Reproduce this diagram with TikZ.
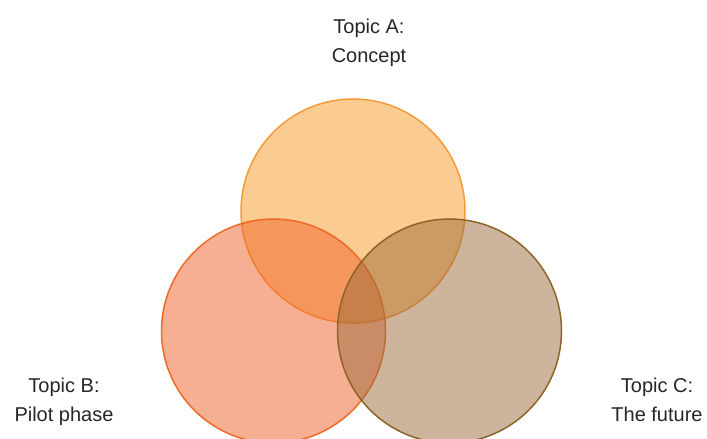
\documentclass[tikz,border=0pt]{standalone}
\usepackage{fontspec}
\setmainfont{Liberation Sans}
\definecolor{fillA}{HTML}{F79A26}
\definecolor{lineA}{HTML}{F59A3A}
\definecolor{fillB}{HTML}{F06028}
\definecolor{lineB}{HTML}{EE6A28}
\definecolor{fillC}{HTML}{9C6A3A}
\definecolor{lineC}{HTML}{8E6428}
\begin{document}
\begin{tikzpicture}[x=1pt,y=1pt]

      \useasboundingbox (0,0) rectangle (707,439);

      \begin{scope}[every node/.style={circle,minimum size=224pt,inner sep=0pt,line width=1.5pt,fill opacity=0.5}]
        \node[draw=lineA,fill=fillA] (A) at (353,228) {};
        \node[draw=lineB,fill=fillB] (B) at (273.5,108) {};
        \node[draw=lineC,fill=fillC] (C) at (449.5,108) {};
      \end{scope}

      \begin{scope}[every node/.style={align=center,text=black!85,font=\fontsize{20}{29}\selectfont,text height=14pt,text depth=4pt}]
        \node (la) at (369,381) {Topic A:\\Concept};
        \node (lb) at (64,22) {Topic B:\\Pilot phase};
        \node (lc) at (657,22) {Topic C:\\The future};
      \end{scope}

    \end{tikzpicture}
\end{document}
